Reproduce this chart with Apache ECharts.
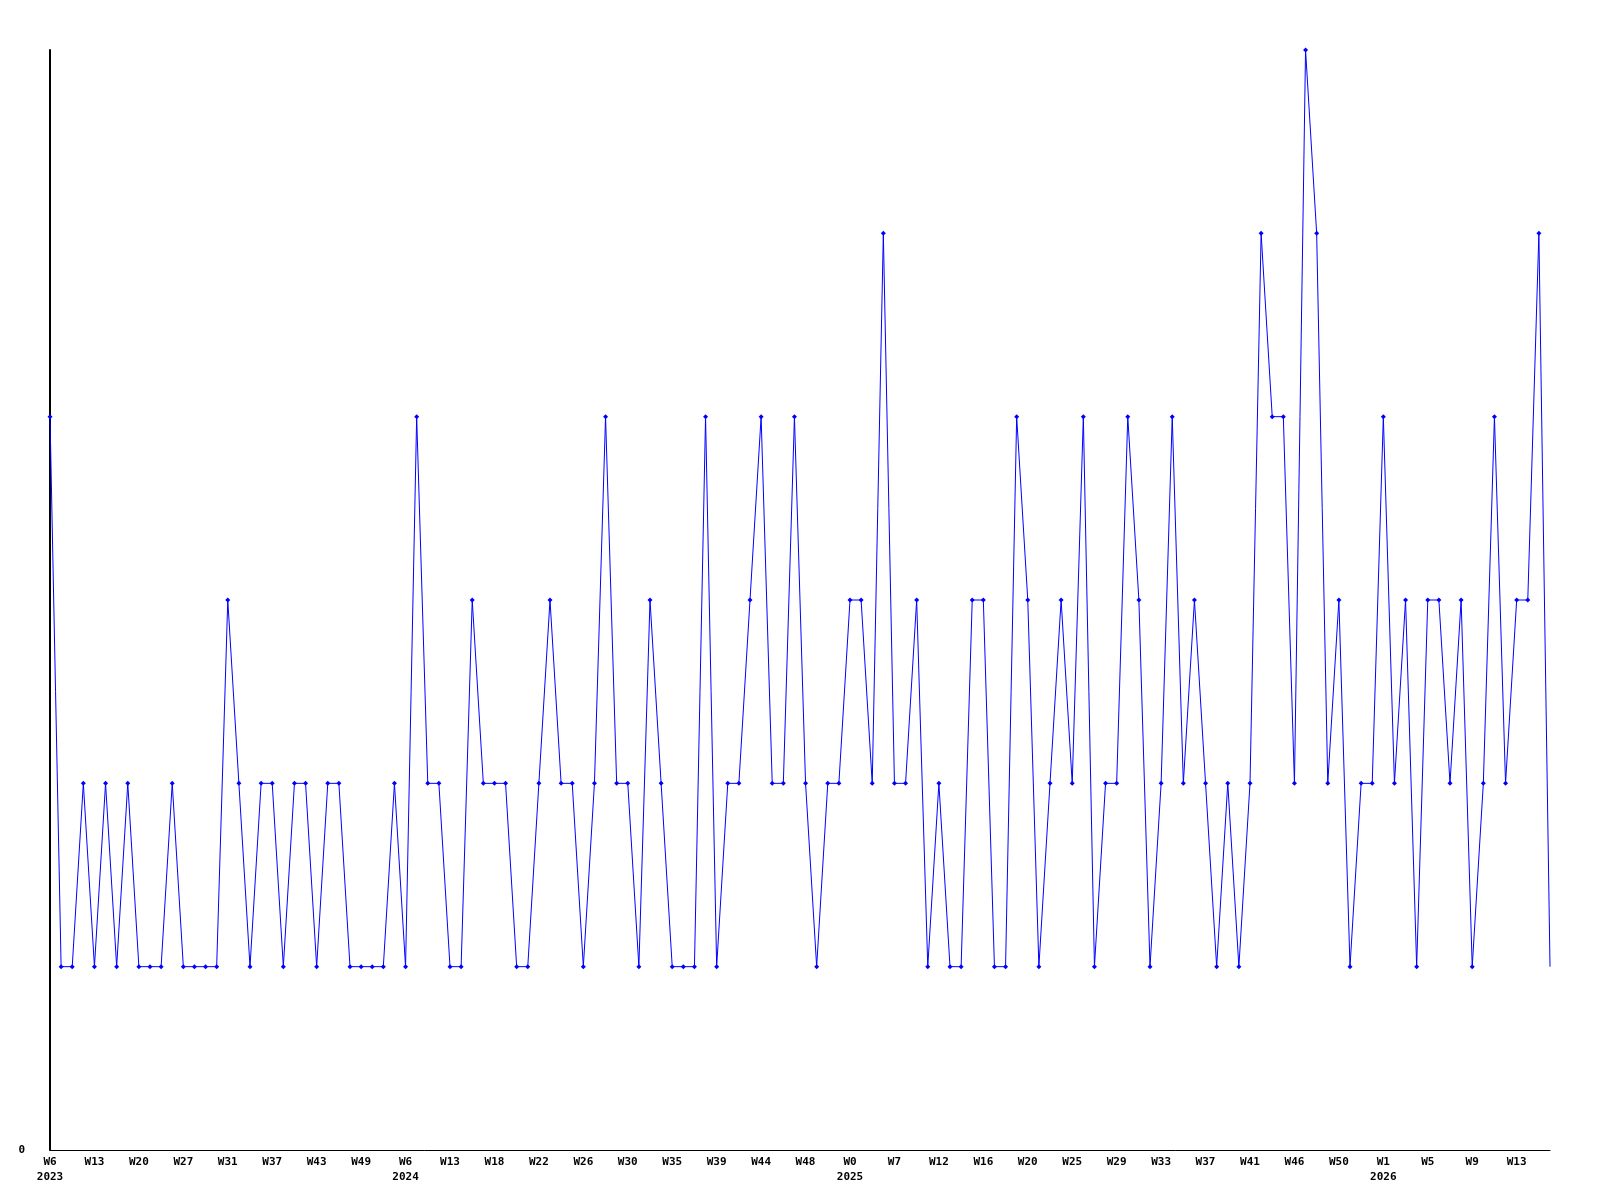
<!DOCTYPE html>
<html>
<head>
<meta charset="utf-8">
<title>Weekly count</title>
<script src="https://cdn.jsdelivr.net/npm/echarts@6/dist/echarts.min.js"></script>
<style>
  html, body { margin: 0; padding: 0; background: #fff; }
  #chart { width: 1600px; height: 1200px; }
</style>
</head>
<body>
<div id="chart"></div>
<script>
// one value per point
const counts = [
  4, 1, 1, 2, 1, 2, 1, 2, 1, 1, 1, 2, 1, 1, 1, 1, 3, 2, 1, 2,
  2, 1, 2, 2, 1, 2, 2, 1, 1, 1, 1, 2, 1, 4, 2, 2, 1, 1, 3, 2,
  2, 2, 1, 1, 2, 3, 2, 2, 1, 2, 4, 2, 2, 1, 3, 2, 1, 1, 1, 4,
  1, 2, 2, 3, 4, 2, 2, 4, 2, 1, 2, 2, 3, 3, 2, 5, 2, 2, 3, 1,
  2, 1, 1, 3, 3, 1, 1, 4, 3, 1, 2, 3, 2, 4, 1, 2, 2, 4, 3, 1,
  2, 4, 2, 3, 2, 1, 2, 1, 2, 5, 4, 4, 2, 6, 5, 2, 3, 1, 2, 2,
  4, 2, 3, 1, 3, 3, 2, 3, 1, 2, 4, 2, 3, 3, 5, 1
]

// a label sits under every 4th point
const weekLabels = [
  'W6', 'W13', 'W20', 'W27', 'W31', 'W37', 'W43', 'W49',
  'W6', 'W13', 'W18', 'W22', 'W26', 'W30', 'W35', 'W39', 'W44', 'W48',
  'W0', 'W7', 'W12', 'W16', 'W20', 'W25', 'W29', 'W33', 'W37', 'W41', 'W46', 'W50',
  'W1', 'W5', 'W9', 'W13'
]
const yearLabels = { 0: '2023', 8: '2024', 18: '2025', 30: '2026' }
const labelEvery = 4

const categories = counts.map((_, i) => {
  if (i % labelEvery !== 0) return ''
  const k = i / labelEvery
  return yearLabels[k] ? weekLabels[k] + '\n' + yearLabels[k] : weekLabels[k]
})

const seriesData = counts.map((v, i) => i === counts.length - 1 ? { value: v, symbol: 'none' } : v)

const chart = echarts.init(document.getElementById('chart'))
chart.setOption({
  animation: false,
  backgroundColor: '#ffffff',
  grid: { left: 50, right: 50, top: 50, bottom: 50, containLabel: false },
  xAxis: {
    type: 'category',
    data: categories,
    boundaryGap: false,
    axisLine: { show: true, lineStyle: { color: '#000', width: 1 } },
    axisTick: { show: false },
    splitLine: { show: false },
    axisLabel: {
      interval: labelEvery - 1,
      margin: 5,
      color: '#000',
      fontFamily: 'DejaVu Sans Mono',
      fontWeight: 'bold',
      fontSize: 11,
      lineHeight: 15
    }
  },
  yAxis: {
    type: 'value',
    min: 0,
    max: 6,
    interval: 1,
    axisLine: { show: true, lineStyle: { color: '#000', width: 2 } },
    axisTick: { show: false },
    splitLine: { show: false },
    axisLabel: {
      margin: 25,
      color: '#000',
      fontFamily: 'DejaVu Sans Mono',
      fontWeight: 'bold',
      fontSize: 11,
      formatter: (v) => v === 0 ? '0' : ''
    }
  },
  series: [
    {
      type: 'line',
      data: seriesData,
      symbol: 'diamond',
      symbolSize: 5,
      showSymbol: true,
      lineStyle: { color: '#0000ff', width: 1 },
      itemStyle: { color: '#0000ff' }
    }
  ]
})
</script>
</body>
</html>
